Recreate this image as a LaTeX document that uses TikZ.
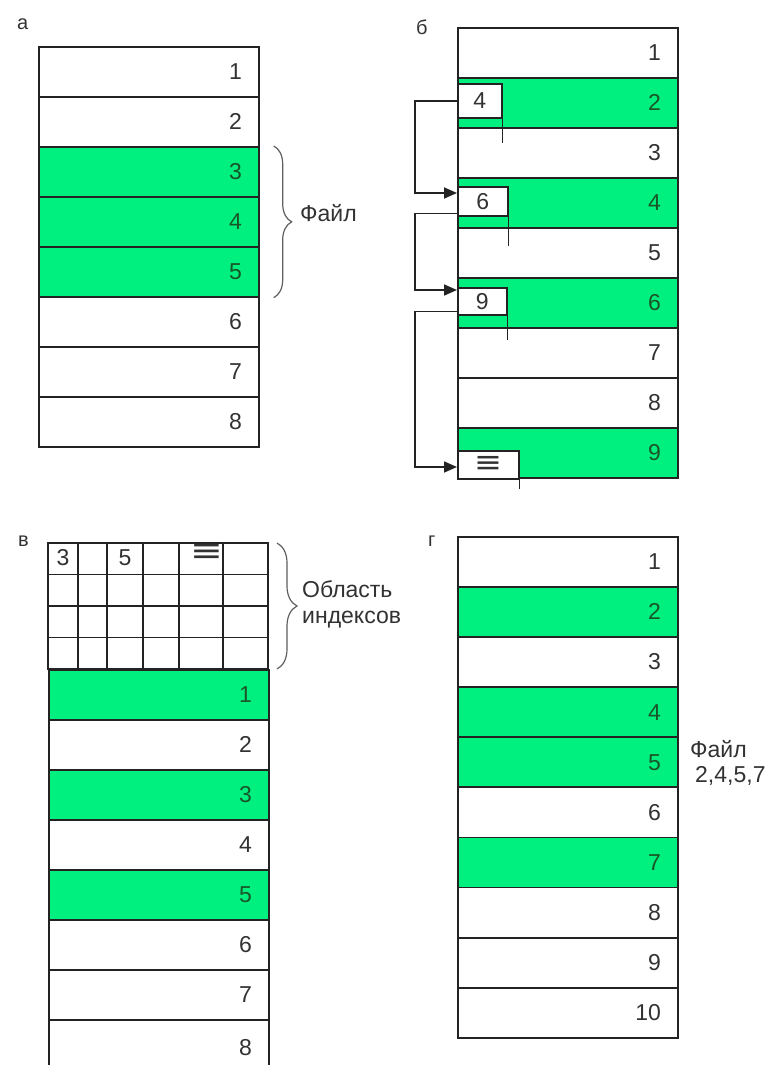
\documentclass[tikz,border=0pt]{standalone}
\usepackage{fontspec}
\setmainfont{Liberation Sans}
\newfontfamily\symf{DejaVu Sans}
\usetikzlibrary{arrows.meta,calc,decorations.pathreplacing}
\definecolor{grn}{RGB}{0,240,128}
\definecolor{linec}{RGB}{35,35,35}
\definecolor{txt}{RGB}{50,50,50}
\definecolor{dtxt}{RGB}{25,85,40}
\definecolor{bracec}{RGB}{95,95,95}
\newcommand\numf{\fontsize{23}{27}\selectfont}
\newcommand\lblf{\fontsize{20}{24}\selectfont}
\begin{document}
\begin{tikzpicture}[x=1pt,y=-1pt,
 cell/.style={draw=linec, line width=1.7pt, minimum height=50pt, text width=186pt, inner xsep=17pt, inner ysep=0pt, align=right, anchor=north west, font=\numf, text=txt},
 full/.style={cell, fill=grn, text=dtxt},
 lbox/.style={draw=linec, fill=white, line width=1.6pt, anchor=north west, inner sep=0pt, font=\numf, text=txt},
 ext/.style={draw=linec, line width=1.6pt},
 link/.style={draw=linec, line width=1.6pt, -{Triangle[length=13pt,width=11pt]}},
 bracedraw/.style={draw=bracec, line width=1.2pt, decorate, decoration={brace, amplitude=#1}},
 ptxt/.style={font=\numf, text=txt, anchor=base west, inner sep=0pt},
 lbl/.style={font=\lblf, text=txt, anchor=base west, inner sep=0pt},
 idx/.style={font=\numf, text=txt, inner sep=0pt},
]
\useasboundingbox (0,0) rectangle (781,1065);
\fill[white] (0,0) rectangle (781,1065);

% panel labels
\node[lbl] (la) at (17,30) {а};
\node[lbl] (lb) at (416,35) {б};
\node[lbl] (lc) at (18,546) {в};
\node[lbl] (ld) at (428,546) {г};

% panel a
\foreach \i/\s in {1/cell,2/cell,3/full,4/full,5/full,6/cell,7/cell,8/cell}
  \node[\s] (a\i) at (38,{46+50*(\i-1)}) {\i};
\draw[bracedraw=18pt] ($(a3.north east)+(14,0)$) -- ($(a5.south east)+(14,0)$);
\node[ptxt] (fa) at (300,221) {Файл};

% panel b
\foreach \i/\s in {1/cell,2/full,3/cell,4/full,5/cell,6/full,7/cell,8/cell,9/full}
  \node[\s] (b\i) at (457,{27+50*(\i-1)}) {\i};
\node[lbox, minimum width=44pt, minimum height=34pt] (l2) at (457,83) {4};
\node[lbox, minimum width=50pt, minimum height=29pt] (l4) at (457,186) {6};
\node[lbox, minimum width=49pt, minimum height=27pt] (l6) at (457,287) {9};
\node[lbox, minimum width=61pt, minimum height=28pt] (l9) at (457,450) {\symf\scalebox{1.45}[1.3]{≡}};
\draw[ext] (l2.north east) -- ++(0,60);
\draw[ext] (l4.north east) -- ++(0,60);
\draw[ext] (l6.north east) -- ++(0,53);
\draw[ext] (l9.north east) -- ++(0,39);
\draw[link] (l2.west) -- ++(-42,0) |- ($(l4.north west)+(0,7)$);
\draw[link] ($(l4.south west)+(0,-3)$) -- ++(-42,0) |- ($(l6.north west)+(0,3)$);
\draw[link] ($(l6.south west)+(0,-4)$) -- ++(-42,0) |- ($(l9.north west)+(0,17)$);

% panel v : index area
\draw[ext] (48,543) rectangle (268,669);
\foreach \yy in {574.5,606,637.5} \draw[ext] (48,\yy) -- (268,\yy);
\foreach \xx in {78,107,143,179,223} \draw[ext] (\xx,543) -- (\xx,669);
\node[idx] (i1) at (63,558) {3};
\node[idx] (i3) at (125,558) {5};
\node[idx] (i5) at (207,553) {\symf\scalebox{1.7}[1.4]{≡}};
\foreach \i/\s in {1/full,2/cell,3/full,4/cell,5/full,6/cell,7/cell}
  \node[\s] (c\i) at (48,{669+50*(\i-1)}) {\i};
\node[cell, minimum height=56pt] (c8) at (48,1019) {8};
\draw[bracedraw=20pt] (277,543) -- (277,669);
\node[ptxt] (ob1) at (302,597) {Область};
\node[ptxt] (ob2) at (302,623) {индексов};

% panel g
\foreach \i/\s in {1/cell,2/full,3/cell,4/full,5/full,6/cell,7/full,8/cell,9/cell,10/cell}
  \node[\s] (d\i) at (457,{536+50.1*(\i-1)}) {\i};
\node[ptxt] (fd1) at (690,757) {Файл};
\node[ptxt] (fd2) at (695,782) {2,4,5,7};
\end{tikzpicture}
\end{document}
